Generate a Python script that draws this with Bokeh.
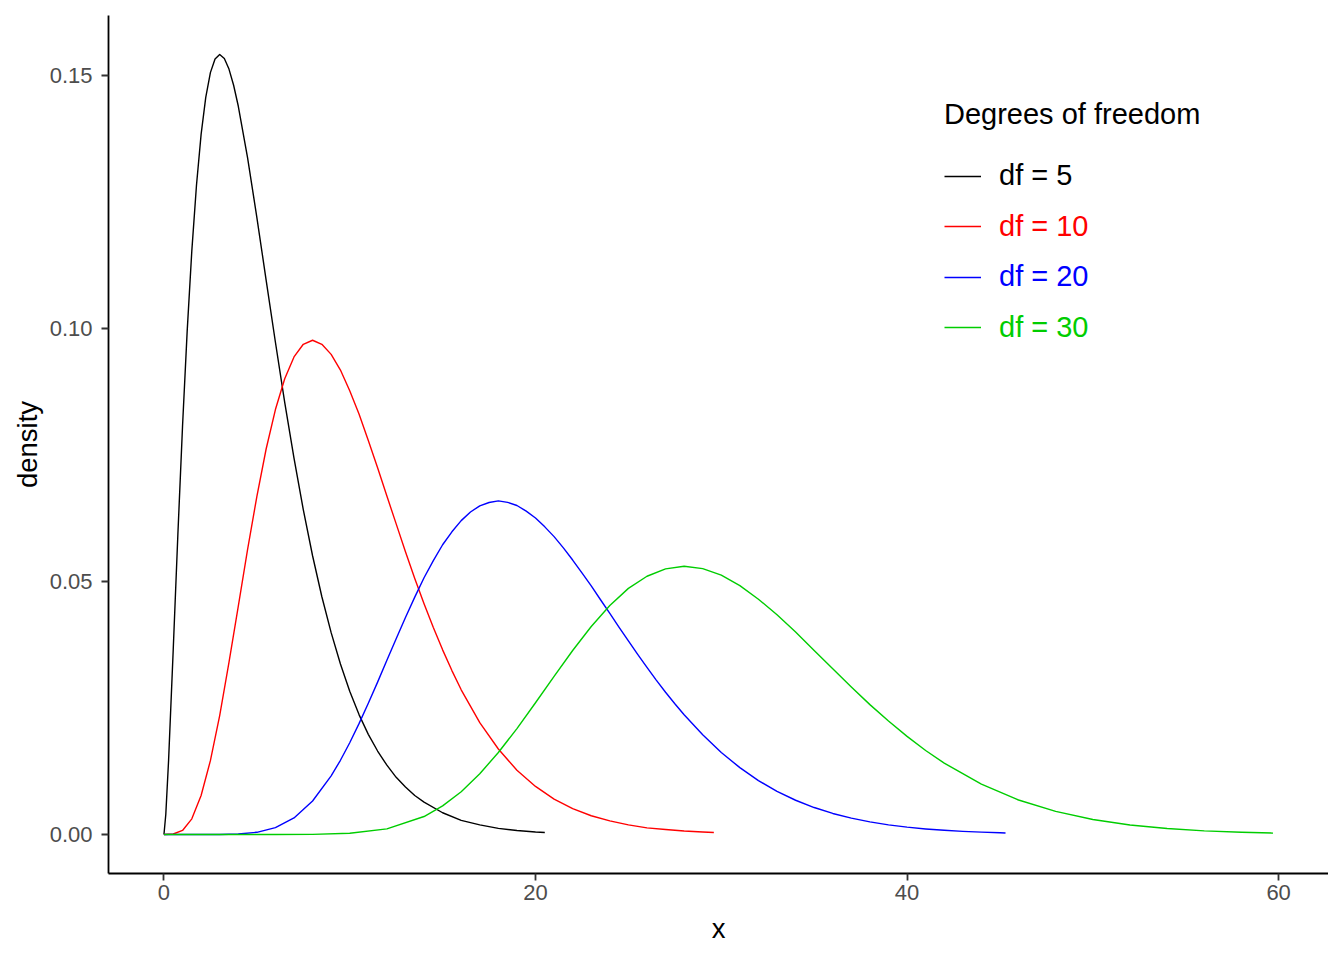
from bokeh.plotting import figure
from bokeh.models import (Range1d, FixedTicker, NumeralTickFormatter, Legend, LegendItem)
from bokeh.embed import file_html
from bokeh.resources import INLINE

# ---- data ----
df5_x = [0, 0.1, 0.25, 0.5, 0.75, 1, 1.25, 1.5, 1.75, 2, 2.25, 2.5, 2.75, 3, 3.25, 3.5, 3.75, 4,
         4.5, 5, 5.5, 6, 6.5, 7, 7.5, 8, 8.5, 9, 9.5, 10, 10.5, 11, 11.5, 12, 12.5, 13, 13.5,
         14, 15, 16, 17, 18, 19, 20, 20.5]
df5_y = [0, 0.0040, 0.0147, 0.0366, 0.0594, 0.0807, 0.0995, 0.1154, 0.1283, 0.1384, 0.1457,
         0.1506, 0.1533, 0.1542, 0.1534, 0.1513, 0.1481, 0.1440, 0.1338, 0.1220, 0.1096,
         0.0973, 0.0854, 0.0744, 0.0642, 0.0551, 0.0470, 0.0399, 0.0337, 0.0283, 0.0237,
         0.0198, 0.0165, 0.0137, 0.0113, 0.0094, 0.0077, 0.0064, 0.0043, 0.0028, 0.0019,
         0.0012, 0.0008, 0.0005, 0.0004]

df10_x = [0, 0.5, 1, 1.5, 2, 2.5, 3, 3.5, 4, 4.5, 5, 5.5, 6, 6.5, 7, 7.5, 8, 8.5, 9, 9.5,
          10, 10.5, 11, 11.5, 12, 12.5, 13, 13.5, 14, 14.5, 15, 15.5, 16, 17, 18, 19, 20,
          21, 22, 23, 24, 25, 26, 27, 28, 29, 29.6]
df10_y = [0, 0.0001, 0.0008, 0.0031, 0.0077, 0.0146, 0.0235, 0.0340, 0.0451, 0.0563,
          0.0668, 0.0762, 0.0840, 0.0901, 0.0944, 0.0969, 0.0977, 0.0969, 0.0949, 0.0918,
          0.0877, 0.0831, 0.0779, 0.0725, 0.0669, 0.0614, 0.0559, 0.0506, 0.0456, 0.0409,
          0.0365, 0.0324, 0.0286, 0.0221, 0.0169, 0.0127, 0.0095, 0.0070, 0.0051, 0.0037,
          0.0027, 0.0019, 0.0013, 0.0010, 0.0007, 0.0005, 0.0004]

df20_x = [0, 1, 2, 3, 4, 5, 6, 7, 8, 9, 9.5, 10, 10.5, 11, 11.5, 12, 12.5, 13, 13.5, 14,
          14.5, 15, 15.5, 16, 16.5, 17, 17.5, 18, 18.5, 19, 19.5, 20, 20.5, 21, 21.5, 22,
          22.5, 23, 23.5, 24, 24.5, 25, 25.5, 26, 26.5, 27, 27.5, 28, 29, 30, 31, 32, 33,
          34, 35, 36, 37, 38, 39, 40, 41, 42, 43, 44, 45, 45.3]
df20_y = [0, 0, 0.0000005, 0.0000118, 0.0000954, 0.000431, 0.00135, 0.00328, 0.00662,
          0.01159, 0.01467, 0.01813, 0.02191, 0.02594, 0.03012, 0.03443, 0.03869, 0.04290,
          0.04692, 0.05075, 0.05412, 0.05727, 0.05983, 0.06204, 0.06374, 0.06497, 0.06563,
          0.06595, 0.06566, 0.06503, 0.06393, 0.06257, 0.06081, 0.05888, 0.05666, 0.05425,
          0.05171, 0.04915, 0.04640, 0.04372, 0.04096, 0.03827, 0.03561, 0.03304, 0.03052,
          0.02812, 0.02585, 0.02368, 0.01970, 0.01621, 0.01321, 0.01065, 0.00853, 0.00677,
          0.00533, 0.00416, 0.00323, 0.00249, 0.00191, 0.00145, 0.00110, 0.00083, 0.00062,
          0.00046, 0.00034, 0.00031]

df30_x = [0, 2, 4, 6, 8, 10, 12, 14, 15, 16, 17, 18, 19, 20, 21, 22, 23, 24, 25, 26, 27,
          28, 29, 30, 31, 32, 33, 34, 35, 36, 37, 38, 39, 40, 41, 42, 44, 46, 48, 50, 52,
          54, 56, 58, 59.7]
df30_y = [0, 0, 0.00000001, 0.0000014, 0.0000282, 0.000236, 0.001115, 0.00355, 0.00566,
          0.00846, 0.01200, 0.01621, 0.02094, 0.02604, 0.03127, 0.03637, 0.04112, 0.04528,
          0.04865, 0.05105, 0.05250, 0.05303, 0.05255, 0.05126, 0.04920, 0.04651, 0.04342,
          0.04004, 0.03637, 0.03274, 0.02916, 0.02567, 0.02242, 0.01939, 0.01661, 0.01412,
          0.00996, 0.00682, 0.00456, 0.00297, 0.00189, 0.00118, 0.00072, 0.00043, 0.00028]

series_labels = ["df = 5", "df = 10", "df = 20", "df = 30"]
series_colors = ["#000000", "#FF0000", "#0000FF", "#00CD00"]
x_ticks = [0, 20, 40, 60]
y_ticks = [0.0, 0.05, 0.10, 0.15]

FONT = "Liberation Sans"

p = figure(frame_width=1220, frame_height=858,
           min_border_left=108, min_border_right=0, min_border_top=15, min_border_bottom=71,
           x_range=Range1d(-2.985, 62.685), y_range=Range1d(-0.00771, 0.16189),
           output_backend="svg", toolbar_location=None, background_fill_color="white",
           border_fill_color="white")
p.outline_line_color = None
p.xgrid.visible = False
p.ygrid.visible = False

xs = [df5_x, df10_x, df20_x, df30_x]
ys = [df5_y, df10_y, df20_y, df30_y]
renderers = []
for x, y, c in zip(xs, ys, series_colors):
    r = p.line(x, y, line_color=c, line_width=1.4, line_join="round")
    renderers.append(r)

for ax in (p.xaxis, p.yaxis):
    ax.axis_line_color = "black"
    ax.axis_line_width = 1.8
    ax.major_tick_line_color = "#333333"
    ax.major_tick_line_width = 1.8
    ax.major_tick_out = 7
    ax.major_tick_in = 0
    ax.minor_tick_line_color = None
    ax.major_label_text_font = FONT
    ax.major_label_text_font_size = "22px"
    ax.major_label_text_color = "#4D4D4D"
    ax.axis_label_text_font = FONT
    ax.axis_label_text_font_size = "27.5px"
    ax.axis_label_text_font_style = "normal"
    ax.axis_label_text_color = "black"

p.xaxis.ticker = FixedTicker(ticks=x_ticks)
p.yaxis.ticker = FixedTicker(ticks=y_ticks)
p.yaxis.formatter = NumeralTickFormatter(format="0.00")
p.xaxis.axis_label = "x"
p.yaxis.axis_label = "density"
p.xaxis.major_label_standoff = 4
p.yaxis.major_label_standoff = 9
p.xaxis.axis_label_standoff = 10
p.yaxis.axis_label_standoff = 4

# legend: one legend box per entry so each label can carry its series colour
legend_y = [680.7, 630.2, 579.7, 529.4]
for i, (r, lab, c) in enumerate(zip(renderers, series_labels, series_colors)):
    lg = Legend(items=[LegendItem(label=lab, renderers=[r])],
                location=(836, legend_y[i]), orientation="vertical",
                padding=0, margin=0, spacing=0,
                border_line_color=None, background_fill_alpha=0,
                glyph_width=37, glyph_height=32, label_height=32, label_standoff=18,
                label_text_font=FONT, label_text_font_size="29px",
                label_text_color=c)
    if i == 0:
        lg.title = "Degrees of freedom"
        lg.title_text_font = FONT
        lg.title_text_font_size = "29px"
        lg.title_text_font_style = "normal"
        lg.title_text_color = "black"
        lg.title_standoff = 28
    p.add_layout(lg, "center")

open("out.html", "w").write(file_html(p, INLINE))
